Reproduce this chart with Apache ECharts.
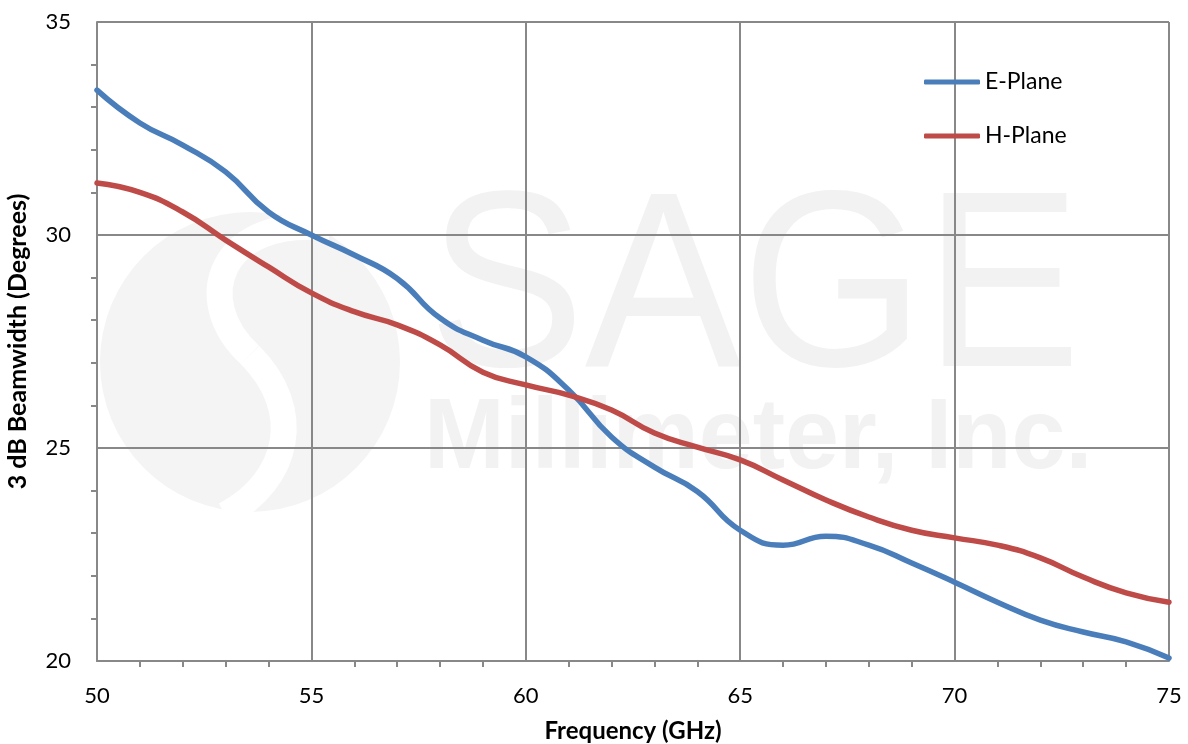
<!DOCTYPE html>
<html>
<head>
<meta charset="utf-8">
<script src="https://cdn.jsdelivr.net/npm/echarts@6/dist/echarts.min.js"></script>
<style>
  html, body { margin: 0; padding: 0; background: #fff; }
  #chart { width: 1188px; height: 744px; }
</style>
</head>
<body>
<div id="chart"></div>
<script>
// data, one point per GHz
const freq = [50, 51, 52, 53, 54, 55, 56, 57, 58, 59, 60, 61, 62, 63, 64, 65, 66, 67, 68, 69, 70, 71, 72, 73, 74, 75];
const ePlane = [33.40, 32.63, 32.11, 31.48, 30.54, 30.00, 29.53, 28.98, 28.05, 27.53, 27.14, 26.36, 25.26, 24.55, 23.98,
  23.07, 22.72, 22.93, 22.72, 22.30, 21.85, 21.38, 20.96, 20.68, 20.45, 20.07];
const hPlane = [31.22, 31.00, 30.54, 29.88, 29.25, 28.64, 28.20, 27.89, 27.42, 26.78, 26.48, 26.24, 25.89, 25.35, 25.02,
  24.72, 24.25, 23.78, 23.38, 23.07, 22.89, 22.72, 22.42, 21.97, 21.60, 21.38];
const seriesNames = ['E-Plane', 'H-Plane'];

const font = 'Lato, "Open Sans", sans-serif';
const gridColor = '#888888';

const toPairs = (ys) => ys.map((y, i) => [freq[i], y]);

let chart = echarts.init(document.getElementById('chart'), null, {renderer: 'canvas'});

chart.setOption({
  backgroundColor: '#ffffff',
  animation: false,
  textStyle: {fontFamily: font},
  grid: {left: 97, right: 19, top: 22, bottom: 83, outerBoundsMode: 'none'},
  // faint company watermark behind the plot
  graphic: [
    {type: 'circle', z: -10, shape: {cx: 250, cy: 362, r: 150}, style: {fill: '#f4f4f4'}},
    {type: 'bezierCurve', z: -9,
      shape: {x1: 330, y1: 228, cpx1: 220, cpy1: 215, cpx2: 190, cpy2: 300, x2: 250, y2: 355},
      style: {fill: 'none', stroke: '#ffffff', lineWidth: 26}},
    {type: 'bezierCurve', z: -9,
      shape: {x1: 250, y1: 355, cpx1: 305, cpy1: 410, cpx2: 290, cpy2: 480, x2: 225, y2: 515},
      style: {fill: 'none', stroke: '#ffffff', lineWidth: 26}},
    {type: 'text', z: -8, x: 428, y: 172, scaleX: 0.94,
      style: {text: 'SAGE', font: '250px "Liberation Sans", sans-serif', fill: '#f2f2f2'}},
    {type: 'text', z: -8, x: 424, y: 390, scaleX: 0.97,
      style: {text: 'Millimeter, Inc.', font: 'bold 100px "Liberation Sans", sans-serif', fill: '#f2f2f2'}}
  ],
  legend: {
    orient: 'vertical',
    left: 924,
    top: 70,
    padding: 0,
    icon: 'roundRect',
    itemWidth: 56,
    itemHeight: 5,
    itemGap: 30,
    textStyle: {fontSize: 23, lineHeight: 24, color: '#000', fontFamily: font},
    data: seriesNames
  },
  xAxis: {
    type: 'value',
    min: 50,
    max: 75,
    interval: 5,
    name: 'Frequency (GHz)',
    nameLocation: 'middle',
    nameGap: 58,
    nameTextStyle: {fontSize: 24, fontWeight: 'bold', color: '#000', fontFamily: font},
    axisLine: {lineStyle: {color: gridColor, width: 2}},
    axisTick: {show: false},
    minorTick: {show: true, splitNumber: 5, length: 6, lineStyle: {color: gridColor, width: 2}},
    axisLabel: {fontSize: 22, color: '#000', margin: 24, fontFamily: font},
    splitLine: {show: true, lineStyle: {color: gridColor, width: 2}}
  },
  yAxis: {
    type: 'value',
    min: 20,
    max: 35,
    interval: 5,
    name: '3 dB Beamwidth (Degrees)',
    nameLocation: 'middle',
    nameGap: 67,
    nameTextStyle: {fontSize: 25, fontWeight: 'bold', color: '#000', fontFamily: font},
    axisLine: {show: true, lineStyle: {color: gridColor, width: 2}},
    axisTick: {show: false},
    minorTick: {show: true, splitNumber: 5, length: 6, lineStyle: {color: gridColor, width: 2}},
    axisLabel: {fontSize: 22, color: '#000', margin: 26, fontFamily: font},
    splitLine: {show: true, lineStyle: {color: gridColor, width: 2}}
  },
  series: [
    {
      name: seriesNames[0],
      type: 'line',
      smooth: 0.5,
      symbol: 'none',
      lineStyle: {color: '#4a7ebb', width: 5.5, cap: 'round'},
      itemStyle: {color: '#4a7ebb'},
      data: toPairs(ePlane)
    },
    {
      name: seriesNames[1],
      type: 'line',
      smooth: 0.5,
      symbol: 'none',
      lineStyle: {color: '#be4b48', width: 5.5, cap: 'round'},
      itemStyle: {color: '#be4b48'},
      data: toPairs(hPlane)
    }
  ]
});
</script>
</body>
</html>
